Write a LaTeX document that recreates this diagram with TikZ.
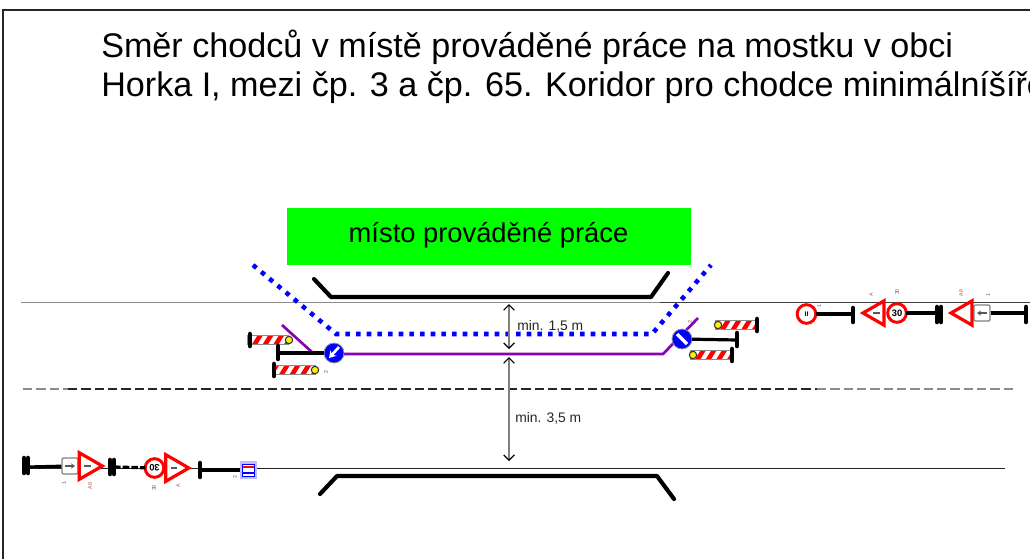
\documentclass[tikz,border=0pt]{standalone}
\usepackage{fontspec}
\setmainfont{Liberation Sans}
\usetikzlibrary{shapes.geometric,arrows.meta}
\definecolor{fencecol}{HTML}{8A00B4}
\tikzset{
  dot/.style = {circle, fill, minimum size=#1,
                inner sep=0pt, outer sep=0pt},
  dot/.default = 6pt,
  kerb/.style = {line width=3.1pt, line cap=round, line join=round},
  post/.style = {black, line width=2.4pt},
  foot/.style = {black, line width=3.4pt, line cap=round},
  measure/.style = {black!50, line width=0.9pt, {Straight Barb[black,length=4pt,width=8pt]}-{Straight Barb[black,length=4pt,width=8pt]}},
  walk/.style = {blue, line width=3.4pt, dash pattern=on 3.4pt off 4.6pt},
  fence/.style = {fencecol, line width=2pt},
  prohibit/.style = {dot=#1, fill=white, draw=red, line width=2.2pt},
  warn/.style = {regular polygon, regular polygon sides=3, fill=white, draw=red,
                 line width=2.4pt, inner sep=0pt, minimum size=21pt},
  bluesign/.style = {dot=15pt, fill=blue, draw=black!40, line width=0.6pt},
  barrier/.style = {rectangle, draw=black!45, line width=0.9pt, minimum width=30pt, minimum height=6.5pt,
                    inner sep=0pt, path picture={
                      \fill[white] (path picture bounding box.south west) rectangle (path picture bounding box.north east);
                      \foreach \s in {-2,...,2}
                        \fill[red] ([xshift=\s*8pt-4pt]path picture bounding box.south) -- ++(4pt,0) -- ++(4pt,6.5pt) -- ++(-4pt,0) -- cycle;
                    }},
  lamp/.style = {dot=5.5pt, fill=yellow, draw=black!80, line width=0.8pt},
  plate/.style = {rectangle, draw=black!50, fill=white, line width=0.9pt, rounded corners=1pt, minimum size=12pt, inner sep=0pt},
  glyph/.style = {black!65, line width=0.8pt},
  tiny/.style = {font=\fontsize{4}{4}\selectfont, inner sep=0pt, text=black!65, rotate=90},
  lbl/.style = {font=\fontsize{10.4}{11}\selectfont, inner sep=0pt, text=black!85}
}

\begin{document}
\begin{tikzpicture}[x=0.75pt,y=-0.75pt]
	\useasboundingbox (0,0) rectangle (1030,558);
	\clip (0,0) rectangle (1030,558);
	\fill[white] (0,0) rectangle (1030,558);

	% Frame
	\draw[black!85, line width=1.3pt] (3,562) -- (3,10) -- (1034,10);

	% Title
	\node[anchor=west, inner sep=0pt, font=\fontsize{25.6}{30}\selectfont] (titleA) at (101,47) {Směr chodců v místě prováděné práce na mostku v obci};
	\node[anchor=west, inner sep=0pt, font=\fontsize{25.6}{30}\selectfont] (titleB) at (101,87) {Horka I, mezi čp. 3 a čp. 65. Koridor pro chodce minimálníšíře};

	% Work area
	\node[rectangle, fill=green, minimum width=303pt, minimum height=43pt, inner sep=0pt] (work) at (488.5,236.5) {};
	\node[inner sep=0pt, font=\fontsize{20.5}{22}\selectfont] (workText) at (488.5,235) {místo prováděné práce};

	% Road lines
	\coordinate (edgeAw) at (21,302.5);  \coordinate (edgeAm) at (660,302.5);  \coordinate (edgeAe) at (1030,302.5);
	\coordinate (edgeBw) at (23,389);  \coordinate (edgeBm) at (68,389);
	\coordinate (edgeBn) at (817,389); \coordinate (edgeBe) at (1016,389);
	\coordinate (edgeCw) at (24,468.5);  \coordinate (edgeCe) at (1005,468.5);
	\draw[black!45, line width=1.2pt] (edgeAw) -- (edgeAm);
	\draw[black!75, line width=0.9pt] (edgeAm) -- (edgeAe);
	\draw[black!45, line width=1.2pt, dash pattern=on 7pt off 3pt] (edgeBw) -- (edgeBm);
	\draw[black!85, line width=0.9pt, dash pattern=on 7pt off 3pt] (edgeBm) -- (edgeBn);
	\draw[black!45, line width=1.2pt, dash pattern=on 7pt off 3pt] (edgeBn) -- (edgeBe);
	\draw[black!85, line width=1pt] (edgeCw) -- (edgeCe);

	% Bridge kerbs
	\draw[kerb] (314,279) -- (331,297) -- (651,297) -- (668,273);
	\draw[kerb] (320,494) -- (337,476) -- (657,476) -- (674,499);

	% Walkway
	\draw[walk] (253,265) -- (336,334) -- (652,334) -- (711,265);

	% Fence
	\coordinate (fenceA) at (282,325);
	\coordinate (fenceB) at (663,354);
	\coordinate (fenceC) at (698,318);
	\coordinate (fenceD) at (345,354);
	\coordinate (fenceE) at (313,353);
	\draw[fence] (fenceA) -- (fenceE) -- (fenceD) -- (fenceB) -- (fenceC);

	% Dimensions
	\coordinate (dimA) at (509,304);  \coordinate (dimB) at (509,349);
	\coordinate (dimC) at (509,357);  \coordinate (dimD) at (509,461);
	\draw[measure] (dimA) -- (dimB);
	\draw[measure] (dimC) -- (dimD);
	\node[lbl, anchor=west] (dimTextA) at (517,326) {min. 1,5 m};
	\node[lbl, anchor=west] (dimTextB) at (515,418) {min. 3,5 m};

	% Closure left
	\node[barrier] (barA) at (268,340) {};
	\node[lamp] (lampA) at (289,340) {};
	\draw[foot] (250,334) -- (250,346);
	\node[barrier] (barB) at (295,370) {};
	\node[lamp] (lampB) at (315,370) {};
	\draw[foot] (274,364) -- (274,376);
	\node[bluesign] (turnA) at (334,353) {};
	\draw[post] (278,353) -- (turnA);
	\draw[foot] (278,346) -- (278,359);
	\draw[white, line width=2pt, -{Stealth[length=5pt,width=6pt]}] (339,347) -- (329,358);

	% Closure right
	\node[barrier] (barC) at (736,325) {};
	\node[lamp] (lampC) at (718,325) {};
	\draw[foot] (757,319) -- (757,331);
	\node[barrier] (barD) at (711,355) {};
	\node[lamp] (lampD) at (693,355) {};
	\draw[foot] (732,349) -- (732,361);
	\node[bluesign] (turnB) at (682,339) {};
	\draw[post] (turnB) -- (737,340);
	\draw[foot] (737,333) -- (737,346);
	\draw[white, line width=2.4pt] (677,334) -- (687,344);

	% Signs right
	\node[prohibit=14pt, font=\bfseries\fontsize{5}{5}\selectfont] (signA) at (806.5,314) {II};
	\draw[post] (signA) -- (853,314);
	\draw[foot] (853,308) -- (853,322);
	\node[warn, shape border rotate=90] (signB) at (877,313) {};
	\draw[glyph] (873,313) -- (880,313);
	\node[prohibit=14pt, font=\bfseries\fontsize{7}{7}\selectfont] (signC) at (897,313) {30};
	\draw[post] (signC) -- (937,313);
	\draw[foot] (937,307) -- (937,322);
	\draw[foot] (941,307) -- (941,322);
	\node[plate] (plateA) at (982,313) {};
	\draw[glyph, -{Stealth[length=3pt,width=4pt]}] (987,313) -- (977,313);
	\node[warn, shape border rotate=90] (signD) at (965,313) {};
	\draw[post] (plateA) -- (1026,313);
	\draw[foot] (1026,307) -- (1026,322);

	% Signs left
	\draw[foot] (24,458) -- (24,473);
	\draw[foot] (28,458) -- (28,473);
	\node[plate] (plateB) at (70,466) {};
	\draw[glyph, -{Stealth[length=3pt,width=4pt]}] (65,466) -- (75,466);
	\draw[post] (28,467) -- (plateB);
	\node[warn, shape border rotate=-90, minimum size=23pt] (signE) at (87,466) {};
	\draw[glyph] (84,466) -- (91,466);
	\draw[foot] (110,460) -- (110,474);
	\draw[foot] (114,460) -- (114,474);
	\node[prohibit=14pt, font=\bfseries\fontsize{7}{7}\selectfont, rotate=180] (signF) at (154.5,468) {30};
	\draw[post, dash pattern=on 5pt off 1.5pt] (114,467) -- (signF);
	\node[warn, shape border rotate=-90, minimum size=23pt] (signG) at (173.5,468) {};
	\draw[glyph] (171,468) -- (177,468);
	\draw[foot] (200,463) -- (200,477);
	\node[rectangle, fill=blue!25, minimum size=13pt, inner sep=0pt] (signH) at (248.5,470) {};
	\draw[post] (200,470) -- (signH);
	\node[rectangle, fill=white, draw=blue, line width=0.6pt, minimum size=9pt, inner sep=0pt] (signHin) at (248.5,470) {};
	\draw[red, line width=1.4pt] (243,467) -- (254,467);
	\draw[blue, line width=1.4pt] (243,473) -- (254,473);

	% Small numbers
	\node[tiny] (tagA) at (64,483) {1};
	\node[tiny, text=orange!70!blue] (tagB) at (90,486) {A8};
	\node[tiny] (tagC) at (154,488) {30};
	\node[tiny, text=orange!70!blue] (tagD) at (178,486) {A};
	\node[tiny] (tagE) at (235,477) {2};
	\node[tiny] (tagF) at (326,372) {2};
	\node[tiny] (tagG) at (690,322) {2};
	\node[tiny] (tagH) at (819,306) {1};
	\node[tiny, text=orange!70!blue] (tagI) at (871,295) {A};
	\node[tiny] (tagJ) at (897,292) {30};
	\node[tiny, text=orange!70!blue] (tagK) at (961,293) {A8};
	\node[tiny] (tagL) at (988,295) {1};
\end{tikzpicture}
\end{document}
